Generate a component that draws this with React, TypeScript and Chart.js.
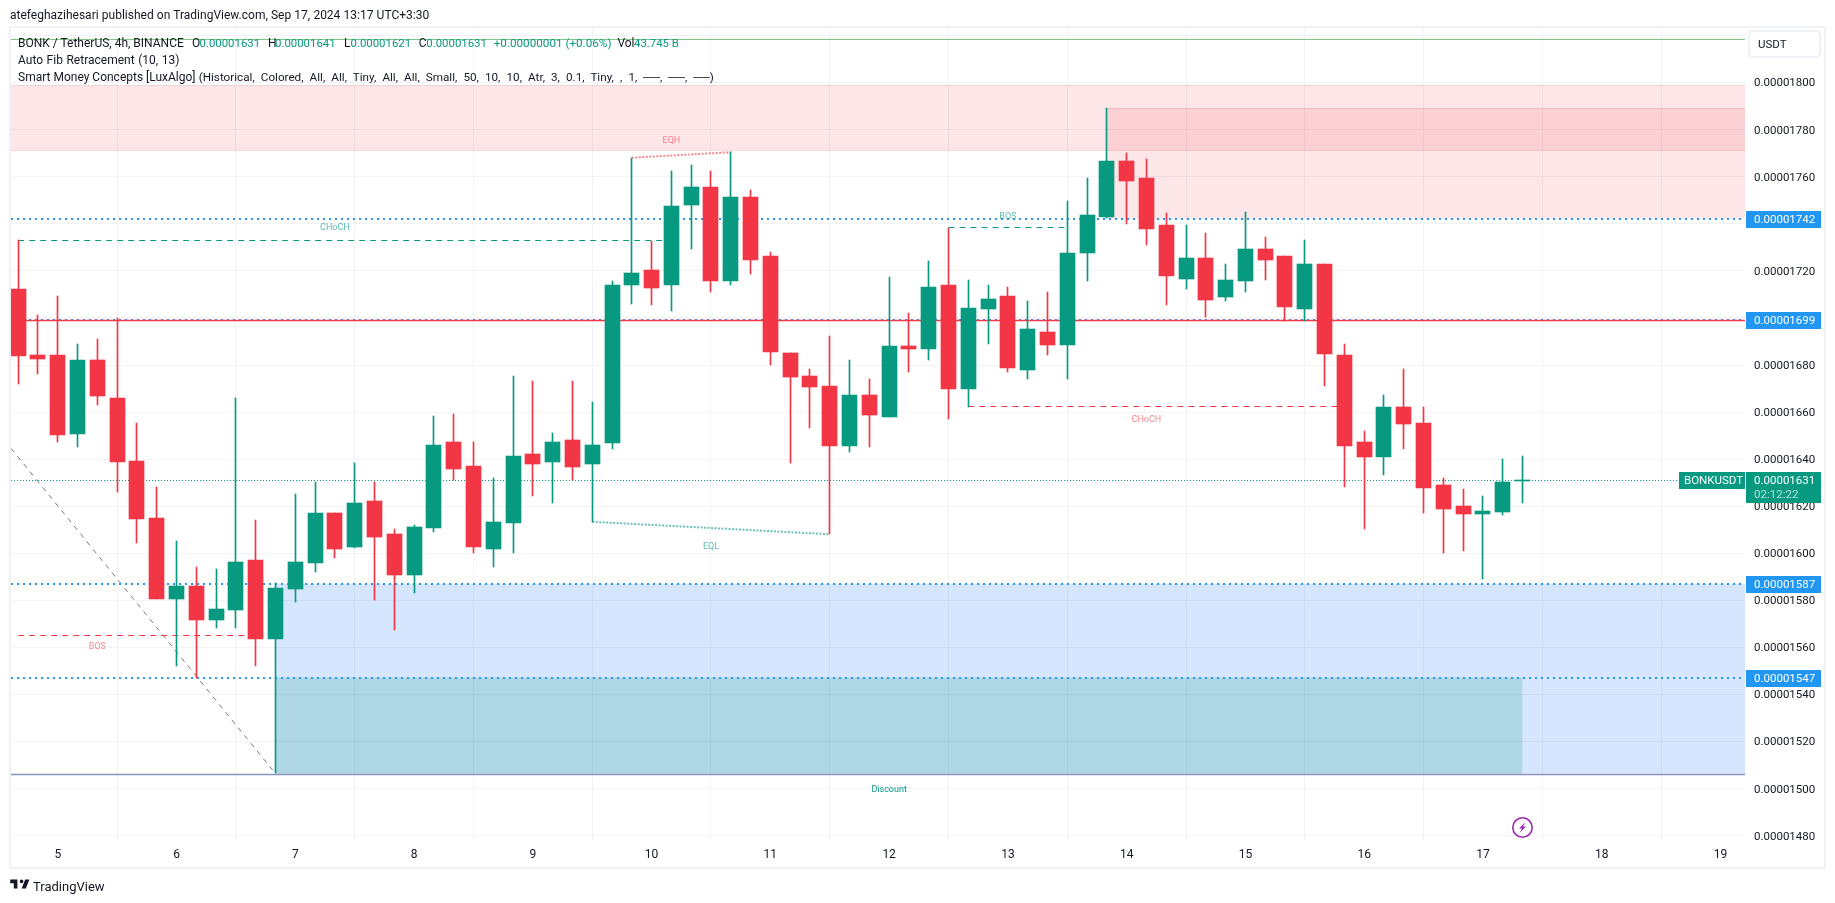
import React, { useEffect, useRef } from "react";
import { Chart, registerables } from "chart.js";

Chart.register(...registerables);

// Prices are in units of 0.00000001 USDT
const firstBarSlot = -2;
const opens = [1712.5,1684.4,1684.4,1650.9,1682.3,1666.1,1639.3,1615,1580.6,1586.1,1571.7,1575.9,1597.2,1563.6,1584.9,1595.9,1617.2,1602.7,1622.3,1608.2,1590.8,1610.8,1647.4,1637.2,1601.9,1612.9,1642.3,1638.9,1648.2,1638,1647,1713.8,1720.2,1713.8,1747.8,1755.5,1715.9,1751.2,1726.5,1685.3,1675.5,1671.2,1645.7,1667.4,1658,1688.2,1687,1714.2,1670,1704,1709.5,1678,1694.2,1688.7,1727.8,1743.1,1766.5,1759.3,1739.3,1716.7,1725.3,1709.1,1715.9,1729.5,1726.5,1704,1723.1,1684.4,1647.4,1641,1662.3,1655.5,1629.1,1620.2,1616.8,1617.6,1631];
const closes = [1684,1682.7,1650.1,1682.3,1667,1638.9,1614.6,1580.6,1586.1,1571.7,1576.3,1596.3,1563.6,1585.3,1596.3,1617.2,1601.9,1621.4,1607,1590.8,1611.2,1646.1,1635.9,1602.7,1613.4,1641.4,1638,1647.4,1636.8,1646.1,1714.2,1719.3,1712.9,1747.4,1755.5,1715.9,1751.2,1724.8,1685.7,1675.1,1670.8,1645.7,1667.4,1658.9,1688.2,1687,1713.3,1670,1704.4,1708.2,1678.9,1695.5,1688.7,1727.4,1743.6,1766.5,1758,1738,1718,1725.3,1707.8,1716.3,1729.5,1724.8,1704.8,1723.1,1684.8,1645.7,1641,1662.3,1655.1,1627.8,1618.9,1616.8,1618.1,1630.4,1631];
const highs = [1733.1,1701.4,1709.5,1689.1,1691.2,1700,1655.5,1628.2,1605.3,1594.2,1593.4,1666.1,1614.2,1587.3,1625.3,1630.4,1617.2,1638.5,1630.4,1610.4,1612.1,1658.4,1659.3,1647.4,1632.1,1675.5,1673.3,1651.2,1673.3,1664.4,1715.5,1768.1,1732.5,1762.3,1765.2,1762.3,1770.4,1754.2,1728.2,1685.3,1678.5,1692.5,1682.3,1674.2,1717.2,1702.3,1724.4,1738.4,1716.3,1714.2,1713.3,1707.4,1711.2,1749.5,1759.3,1789.2,1770.3,1767.4,1744.4,1739.3,1736.3,1723.1,1745.2,1734.2,1726.5,1733.3,1723.1,1689.1,1652.1,1667.4,1678.5,1662.3,1632.1,1627.4,1624.4,1640.2,1641.4];
const lows = [1672.1,1676.3,1647.4,1645.3,1663.1,1626.1,1604.4,1580.6,1552.1,1547,1568.3,1568.3,1552.1,1506.5,1579.3,1592.1,1598,1602.3,1580.2,1567.4,1583.2,1609.1,1631.2,1600.2,1594.2,1600.2,1624.4,1621.4,1631.2,1613.4,1644.4,1706.1,1705.3,1703.1,1729.5,1711.2,1714.2,1718.5,1680.2,1638.5,1653.4,1608.1,1643.2,1645.3,1658,1677.2,1682.3,1657.2,1662.2,1689.1,1677.2,1674.2,1684.4,1674.2,1715.5,1742.3,1740.1,1731.2,1705.3,1712.5,1700.2,1707.4,1711.2,1716.3,1698.5,1698.5,1671.2,1628.3,1610.4,1633.4,1644.4,1617.2,1600.2,1601,1589.1,1616.4,1621.5];

const priceTicks = [1480,1500,1520,1540,1560,1580,1600,1620,1640,1660,1680,1700,1720,1740,1760,1780,1800,1820];
const hiddenPriceTicks = [1820];
const dayTickSlots = [0,6,12,18,24,30,36,42,48,54,60,66,72,78,84];
const dayTickLabels = ["5","6","7","8","9","10","11","12","13","14","15","16","17","18","19"];

const slotMin = -2.364;
const slotMax = 85.24;
const priceMin = 1478.2;
const priceMax = 1823.2;

const GREEN = "#089981";
const RED = "#F23645";
const BLUE = "#2196F3";
const GRID = "#F2F3F6";

const blueLevels = [1742, 1699.3, 1587, 1547.2];
const blueLevelTags = ["0.00001742", "0.00001699", "0.00001587", "0.00001547"];
const redLevel = 1698.9;
const topLevel = 1818.4;
const lastPrice = 1631;
const rangeLow = 1506.2;

// zones: [slot start, slot end, price top, price bottom]
const supplyZone = [slotMin, slotMax, 1798.9, 1771.1];
const orderBlockZone = [53, slotMax, 1789.2, 1742];
const demandZone = [11, slotMax, 1587, 1506.4];
const discountZone = [11, 74, 1547.2, 1506.4];

// structure lines: [slot a, price a, slot b, price b]
const bosDown = [-2, 1565, 10, 1565];
const chochUp = [-2, 1733, 31, 1733];
const bosUp = [45, 1738.4, 51, 1738.4];
const chochDown = [46, 1662.2, 65, 1662.2];
const eqh = [29, 1768.1, 34, 1770.4];
const eql = [27, 1613.4, 39, 1608.1];
const fibDiagonal = [slotMin, 1644.6, 11, 1506.4];

const structureLabels = ["BOS", "CHoCH", "EQH", "EQL", "BOS", "CHoCH", "Discount"];
const structureLabelSlots = [2, 14, 31, 33, 48, 55, 42];
const structureLabelPrices = [1560.2, 1738.3, 1775.3, 1603, 1743, 1656.9, 1499.4];
const structureLabelKinds = ["r", "g", "r", "g", "g", "r", "d"];

const font = "Roboto, 'Liberation Sans', sans-serif";

const seg = (s: number[], color: string, width: number, dash: number[] = [], order = 20, snap = true) => ({
  type: "line" as const,
  data: [{ x: s[0], y: s[1] }, { x: s[2], y: s[3] }],
  borderColor: color,
  borderWidth: width,
  borderDash: dash,
  pointRadius: 0,
  fill: false,
  order,
  snap,
});
const hline = (x0: number, x1: number, y: number, color: string, width: number, dash: number[] = [], order = 20) =>
  seg([x0, y, x1, y], color, width, dash, order);
const zone = (z: number[], color: string) => ({
  type: "line" as const,
  data: [{ x: z[0], y: z[2] }, { x: z[1], y: z[2] }],
  borderColor: "rgba(0,0,0,0)",
  borderWidth: 0,
  pointRadius: 0,
  fill: { value: z[3] },
  backgroundColor: color,
  order: 40,
});

const crisp = {
  id: "crisp",
  afterDatasetsUpdate(chart: any) {
    chart.data.datasets.forEach((ds: any, i: number) => {
      const meta = chart.getDatasetMeta(i);
      if (ds.type === "bar") {
        meta.data.forEach((el: any) => {
          el.x = Math.floor(el.x) + 0.5;
          const top = Math.round(Math.min(el.y, el.base));
          let bottom = Math.round(Math.max(el.y, el.base));
          if (bottom - top < 1) bottom = top + 1;
          el.y = top;
          el.base = bottom;
        });
      } else if (ds.snap) {
        meta.data.forEach((el: any) => {
          if (ds.data[0].y === ds.data[1].y) {
            el.y = ds.borderWidth === 2 ? Math.round(el.y) : Math.floor(el.y) + 0.5;
          }
        });
      }
    });
  },
};

const frame = {
  id: "frame",
  beforeDraw(chart: any) {
    const { ctx, width, height } = chart;
    ctx.save();
    ctx.fillStyle = "#ffffff";
    ctx.fillRect(0, 0, width, height);
    ctx.strokeStyle = "#F0F1F6";
    ctx.lineWidth = 2;
    ctx.strokeRect(10, 27, 1815, 841);
    ctx.restore();
    if (!chart.$tickShift) {
      chart.$tickShift = true;
      chart.scales.y.getLabelItems().forEach((it: any) => {
        it.options.translation[1] += 1;
      });
    }
  },
};

const overlay = {
  id: "overlay",
  afterDraw(chart: any) {
    const { ctx, scales } = chart;
    const y = scales.y;
    const x = scales.x;
    const xr = chart.chartArea.right;
    ctx.save();
    ctx.font = `9px ${font}`;
    ctx.textAlign = "center";
    ctx.textBaseline = "middle";
    structureLabels.forEach((t, i) => {
      const k = structureLabelKinds[i];
      ctx.fillStyle = k === "r" ? "rgba(242,54,69,0.6)" : k === "g" ? "rgba(8,153,129,0.65)" : GREEN;
      ctx.fillText(t, x.getPixelForValue(structureLabelSlots[i]), y.getPixelForValue(structureLabelPrices[i]));
    });
    ctx.font = `11.5px ${font}`;
    ctx.textAlign = "left";
    blueLevels.forEach((p, i) => {
      const py = Math.round(y.getPixelForValue(p));
      ctx.fillStyle = BLUE;
      ctx.fillRect(xr + 1, py - 8, 75, 17);
      ctx.fillStyle = "#ffffff";
      ctx.fillText(blueLevelTags[i], xr + 9, py + 1);
    });
    const ly = Math.round(y.getPixelForValue(lastPrice));
    ctx.fillStyle = GREEN;
    ctx.fillRect(xr + 1, ly - 8, 75, 31);
    ctx.fillRect(xr - 66, ly - 8, 66, 17);
    ctx.fillStyle = "#ffffff";
    ctx.fillText("0.00001631", xr + 9, ly + 1);
    ctx.fillText("BONKUSDT", xr - 61, ly + 1);
    ctx.fillStyle = "rgba(255,255,255,0.7)";
    ctx.fillText("02:12:22", xr + 9, ly + 15);
    ctx.fillStyle = "#ffffff";
    ctx.strokeStyle = "#F0F1F6";
    ctx.lineWidth = 2;
    ctx.beginPath();
    ctx.roundRect(xr + 4, 31, 71, 26, 4);
    ctx.fill();
    ctx.stroke();
    ctx.fillStyle = "#131722";
    ctx.fillText("USDT", xr + 13, 45);
    ctx.restore();
  },
};

const legendStyle: React.CSSProperties = {
  position: "absolute",
  left: 18,
  fontFamily: font,
  fontSize: 12,
  color: "#131722",
  whiteSpace: "pre",
  lineHeight: "17px",
};

const Piece = ({ x, top, size = 12, green = false, ws = 0, children }: any) => (
  <div style={{ ...legendStyle, left: x, top, fontSize: size, wordSpacing: ws, color: green ? GREEN : "#131722" }}>{children}</div>
);

export default function App() {
  const ref = useRef<HTMLCanvasElement>(null);
  useEffect(() => {
    const slots = opens.map((_, i) => i + firstBarSlot);
    const colors = opens.map((o, i) => (closes[i] >= o ? GREEN : RED));
    const chart = new Chart(ref.current as HTMLCanvasElement, {
      type: "bar",
      data: {
        datasets: [
          zone(supplyZone, "rgba(242,54,69,0.125)"),
          zone(orderBlockZone, "rgba(242,54,69,0.125)"),
          zone(demandZone, "rgba(33,120,250,0.19)"),
          zone(discountZone, "rgba(20,160,105,0.2)"),
          hline(supplyZone[0], supplyZone[1], supplyZone[2], "rgba(242,54,69,0.15)", 1),
          hline(supplyZone[0], supplyZone[1], supplyZone[3], "rgba(242,54,69,0.15)", 1),
          hline(orderBlockZone[0], orderBlockZone[1], orderBlockZone[2], "rgba(242,54,69,0.15)", 1),
          hline(slotMin, slotMax, topLevel, "#81C784", 1),
          hline(slotMin, slotMax, rangeLow, "#8796BF", 1.5),
          hline(firstBarSlot, slotMax, redLevel, RED, 1.3, [], 19),
          ...blueLevels.map((p) => hline(slotMin, slotMax, p, BLUE, 2, [2, 4], 20)),
          hline(slotMin, slotMax, lastPrice, GREEN, 1, [1, 2]),
          seg(fibDiagonal, "#787B86", 1, [5, 5], 20, false),
          seg(bosDown, RED, 1, [6, 5]),
          seg(chochUp, GREEN, 1, [6, 5]),
          seg(bosUp, GREEN, 1, [6, 5]),
          seg(chochDown, RED, 1, [6, 5]),
          seg(eqh, "rgba(242,54,69,0.6)", 2, [2, 1.5], 20, false),
          seg(eql, "rgba(8,153,129,0.6)", 2, [2, 1.5], 20, false),
          {
            type: "bar" as const,
            data: slots.map((s, i) => ({ x: s, y: [lows[i], highs[i]] })),
            backgroundColor: colors,
            grouped: false,
            barPercentage: 1,
            categoryPercentage: 1,
            maxBarThickness: 1,
            order: 2,
          },
          {
            type: "bar" as const,
            data: slots.map((s, i) => ({ x: s, y: [opens[i], closes[i]] })),
            backgroundColor: colors,
            grouped: false,
            barPercentage: 1,
            categoryPercentage: 1,
            maxBarThickness: 15,
            order: 1,
          },
        ] as any,
      },
      plugins: [frame, crisp, overlay],
      options: {
        responsive: false,
        animation: false,
        devicePixelRatio: 1,
        layout: { padding: { left: 11, right: 10, top: 28, bottom: 35 } },
        plugins: { legend: { display: false }, tooltip: { enabled: false }, title: { display: false } },
        scales: {
          x: {
            type: "linear",
            min: slotMin,
            max: slotMax,
            offset: false,
            border: { display: false },
            grid: { color: GRID, drawTicks: false },
            afterBuildTicks(s: any) {
              s.ticks = dayTickSlots.map((v) => ({ value: v }));
            },
            afterFit(s: any) {
              s.height = 28;
            },
            ticks: {
              autoSkip: false,
              maxRotation: 0,
              padding: 8,
              color: "#131722",
              font: { family: font, size: 12 },
              callback: (v: any) => dayTickLabels[dayTickSlots.indexOf(Number(v))] ?? "",
            },
          },
          y: {
            type: "linear",
            position: "right",
            min: priceMin,
            max: priceMax,
            border: { display: false },
            grid: { color: GRID, drawTicks: false },
            afterBuildTicks(s: any) {
              s.ticks = priceTicks.map((v) => ({ value: v }));
            },
            afterFit(s: any) {
              s.width = 80;
            },
            ticks: {
              autoSkip: false,
              padding: 9,
              color: "#131722",
              font: { family: font, size: 11.5 },
              callback: (v: any) => (hiddenPriceTicks.includes(Number(v)) ? "" : (Number(v) * 1e-8).toFixed(8)),
            },
          },
        },
      } as any,
    });
    return () => chart.destroy();
  }, []);

  const line1 = 34.5;
  const line2 = 51.5;
  const line3 = 68.5;
  return (
    <div style={{ position: "absolute", left: 0, top: 0, width: 1835, height: 903, background: "#fff", overflow: "hidden" }}>
      <canvas ref={ref} width={1835} height={903} style={{ position: "absolute", left: 0, top: 0, width: 1835, height: 903 }} />
      <Piece x={10} top={7} ws={0.2}>atefeghazihesari published on TradingView.com, Sep 17, 2024 13:17 UTC+3:30</Piece>
      <Piece x={18} top={line1}>BONK / TetherUS, 4h, BINANCE</Piece>
      <Piece x={192} top={line1}>O</Piece>
      <Piece x={199.5} top={line1} size={11.4} green>0.00001631</Piece>
      <Piece x={268} top={line1}>H</Piece>
      <Piece x={275} top={line1} size={11.4} green>0.00001641</Piece>
      <Piece x={344} top={line1}>L</Piece>
      <Piece x={350.5} top={line1} size={11.4} green>0.00001621</Piece>
      <Piece x={418.7} top={line1}>C</Piece>
      <Piece x={426.3} top={line1} size={11.4} green>0.00001631</Piece>
      <Piece x={493.7} top={line1} size={11.7} green>+0.00000001 (+0.06%)</Piece>
      <Piece x={617.4} top={line1}>Vol</Piece>
      <Piece x={634} top={line1} size={11.4} green>43.745 B</Piece>
      <Piece x={18} top={line2} ws={0.6}>Auto Fib Retracement (10, 13)</Piece>
      <Piece x={18} top={line3} size={12}>Smart Money Concepts [LuxAlgo]</Piece>
      <Piece x={198.7} top={line3} size={11.7} ws={3.2}>(Historical, Colored, All, All, Tiny, All, All, Small, 50, 10, 10, Atr, 3, 0.1, Tiny, , 1, ──, ──, ──)</Piece>
      <svg style={{ position: "absolute", left: 1511, top: 816 }} width={23} height={23} viewBox="0 0 23 23">
        <circle cx={11.5} cy={11.5} r={9.7} fill="none" stroke="#9C27B0" strokeWidth={1.6} />
        <path d="M14.5 6 L8 12.5 L11 12.5 L8.5 17 L15 10.5 L12 10.5 Z" fill="#9C27B0" />
      </svg>
      <svg style={{ position: "absolute", left: 8.8, top: 876.4 }} width={21.6} height={16.8} viewBox="0 0 36 28">
        <path d="M14 6H2v6h6v9h6V6Zm14 15h-7l6-15h7l-6 15Zm-7-9a3 3 0 1 0 0-6 3 3 0 0 0 0 6Z" fill="#131722" />
      </svg>
      <Piece x={33} top={878} size={13}>TradingView</Piece>
    </div>
  );
}
